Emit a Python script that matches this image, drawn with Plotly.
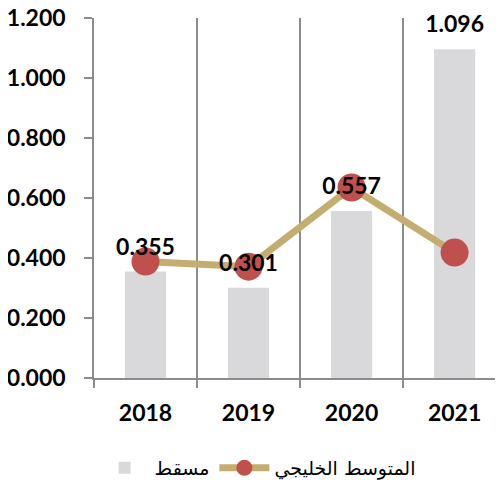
import plotly.graph_objects as go

years = ["2018", "2019", "2020", "2021"]
muscat = [0.355, 0.301, 0.557, 1.096]
gulf_avg = [0.388, 0.371, 0.635, 0.418]
muscat_labels = ["0.355", "0.301", "0.557", "1.096"]
y_ticks = [0, 0.2, 0.4, 0.6, 0.8, 1.0, 1.2]
y_tick_labels = ["0.000", "0.200", "0.400", "0.600", "0.800", "1.000", "1.200"]

num_font = "Lato"
ar_font = "DejaVu Sans"

fig = go.Figure()
fig.add_trace(go.Bar(
    x=years, y=muscat, name="مسقط",
    marker=dict(color="#d9d9db", line=dict(width=0)),
    width=0.4,
))
fig.add_trace(go.Scatter(
    x=years, y=gulf_avg, name="المتوسط الخليجي", mode="lines+markers",
    line=dict(color="#c4ad6e", width=7),
    marker=dict(color="#c0504d", size=28),
    cliponaxis=False,
))
fig.add_trace(go.Scatter(
    x=years, y=muscat, mode="text+markers", text=muscat_labels,
    textposition="top center", showlegend=False, hoverinfo="skip",
    marker=dict(size=16, opacity=0),
    textfont=dict(family=num_font, size=23, color="black", weight="bold"),
    cliponaxis=False,
))

fig.update_layout(
    width=495, height=475,
    margin=dict(l=86, r=0, t=10, b=105, autoexpand=False),
    plot_bgcolor="white", paper_bgcolor="white",
    showlegend=True,
    legend=dict(orientation="h", xanchor="center", x=0.40, yanchor="middle", y=-0.25,
                font=dict(family=ar_font, size=19, color="black"),
                traceorder="normal", itemwidth=50),
    xaxis=dict(
        type="category", range=[-0.5, 3.47], automargin=False,
        tickson="boundaries", showgrid=True, gridcolor="#8c8c8c", gridwidth=1.5,
        ticks="outside", ticklen=8, tickcolor="#8c8c8c", tickwidth=1.5,
        showline=True, linecolor="#8c8c8c", linewidth=1.5,
        tickfont=dict(family=num_font, size=23, color="black", weight="bold"),
        ticklabelstandoff=14, ticklabeloverflow="allow",
    ),
    yaxis=dict(
        range=[0, 1.2], tickvals=y_ticks, ticktext=y_tick_labels, automargin=False,
        showgrid=False, zeroline=False,
        ticks="outside", ticklen=8, tickcolor="#8c8c8c", tickwidth=1.5,
        showline=True, linecolor="#8c8c8c", linewidth=1.5,
        tickfont=dict(family=num_font, size=23, color="black", weight="bold"),
        ticklabelstandoff=14, ticklabeloverflow="allow",
    ),
)

fig.write_html("out.html")
